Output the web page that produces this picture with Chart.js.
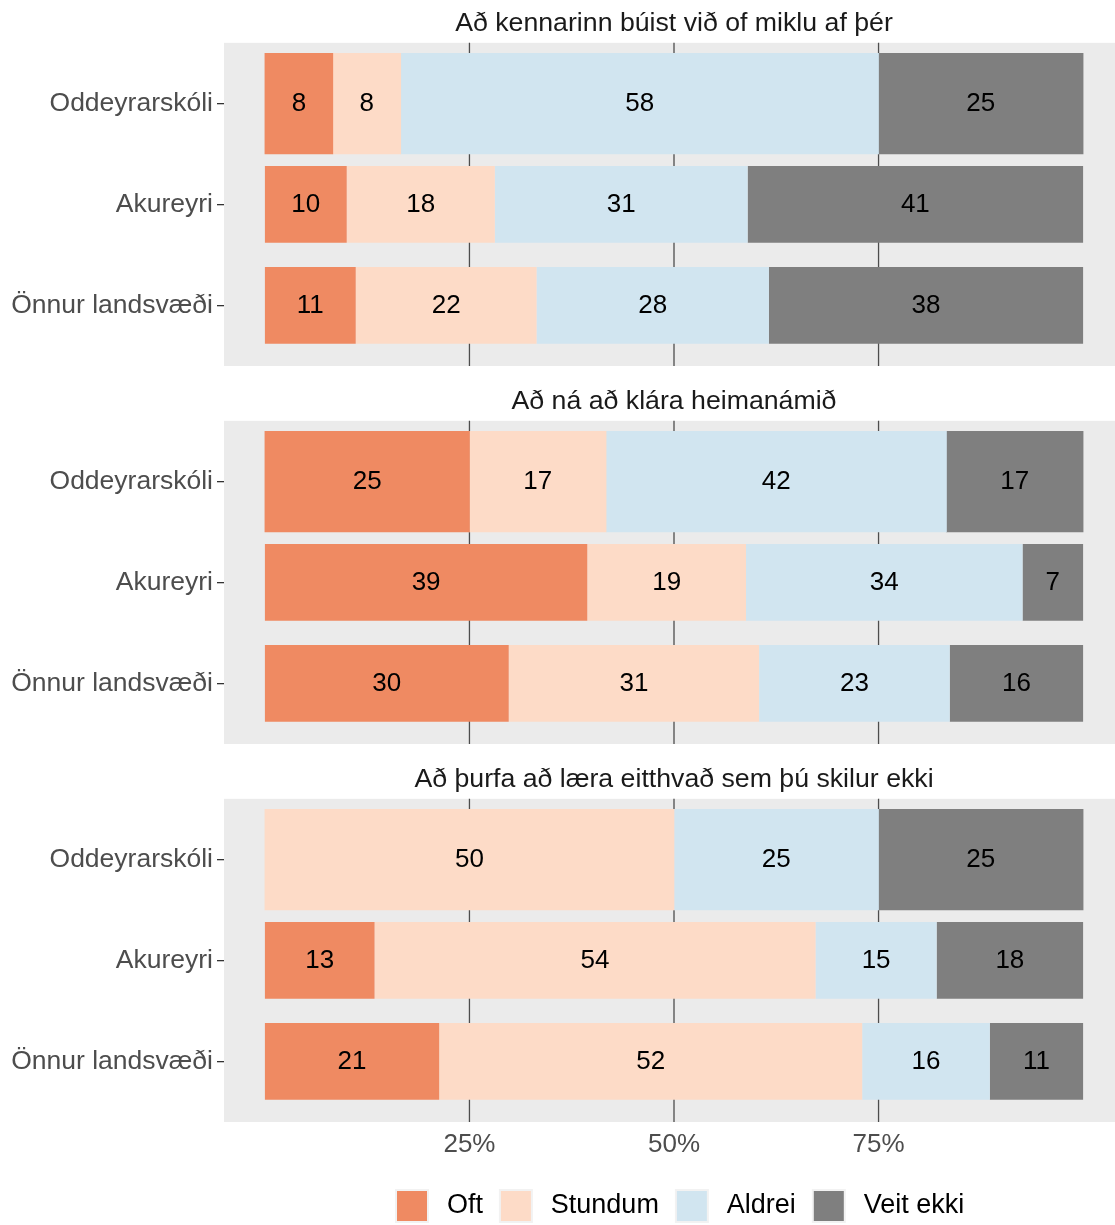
<!DOCTYPE html>
<html>
<head>
<meta charset="utf-8">
<script src="https://cdn.jsdelivr.net/npm/chart.js@4"></script>
<style>
  html, body { margin: 0; padding: 0; background: #fff; overflow: hidden; }
  #wrap { position: relative; width: 1115px; height: 1225px; overflow: hidden; }
  canvas { position: absolute; left: 0; }
</style>
</head>
<body>
<div id="wrap">
  <canvas id="c1" width="1124" height="378" style="top:-12px"></canvas>
  <canvas id="c2" width="1124" height="378" style="top:366px"></canvas>
  <canvas id="c3" width="1124" height="488" style="top:744px"></canvas>
</div>
<script>
const schools = ['Oddeyrarskóli', 'Akureyri', 'Önnur landsvæði'];
const answers = ['Oft', 'Stundum', 'Aldrei', 'Veit ekki'];
const answerColors = ['#EF8A62', '#FDDBC7', '#D1E5F0', '#7F7F7F'];
const xTicks = [25, 50, 75];

// percent per school, columns: Oft, Stundum, Aldrei, Veit ekki
const kennarinn = [
  [8.3, 8.3, 58.4, 25.0],
  [10.0, 18.1, 30.9, 41.0],
  [11.1, 22.1, 28.4, 38.4]
];
const heimanam = [
  [25.0, 16.7, 41.6, 16.7],
  [39.4, 19.4, 33.8, 7.4],
  [29.8, 30.6, 23.3, 16.3]
];
const skilur = [
  [0, 50.0, 25.0, 25.0],
  [13.4, 53.9, 14.8, 17.9],
  [21.3, 51.7, 15.6, 11.4]
];

const FONT = '"Liberation Sans", Arial, sans-serif';
Chart.defaults.font.family = FONT;

// grey panel + dark vertical grid lines, a bit taller than the bar area
const panelBg = {
  id: 'panelBg',
  beforeDraw(chart) {
    const {ctx, chartArea: a, scales: {x, y}} = chart;
    const pad = Math.abs(y.getPixelForValue(1) - y.getPixelForValue(0)) * 0.1;
    ctx.save();
    ctx.fillStyle = '#EBEBEB';
    ctx.fillRect(a.left, a.top - pad, a.right - a.left, a.bottom - a.top + 2 * pad);
    ctx.strokeStyle = '#4D4D4D';
    ctx.lineWidth = 1.3;
    xTicks.forEach(v => {
      const px = x.getPixelForValue(v);
      ctx.beginPath();
      ctx.moveTo(px, a.top - pad);
      ctx.lineTo(px, a.bottom + pad);
      ctx.stroke();
    });
    ctx.restore();
  }
};

const barLabels = {
  id: 'barLabels',
  afterDatasetsDraw(chart) {
    const ctx = chart.ctx;
    ctx.save();
    ctx.font = '26px ' + FONT;
    ctx.fillStyle = '#000';
    ctx.textAlign = 'center';
    ctx.textBaseline = 'middle';
    chart.data.datasets.forEach((ds, di) => {
      chart.getDatasetMeta(di).data.forEach((bar, i) => {
        const v = ds.data[i];
        if (v === null || v === 0) return;
        ctx.fillText(String(Math.round(v)), (bar.x + bar.base) / 2, bar.y);
      });
    });
    ctx.restore();
  }
};

// title centred over the panel, legend moved under the panel like the original
const centerOnPanel = {
  id: 'centerOnPanel',
  afterLayout(chart) {
    const a = chart.chartArea;
    if (chart.titleBlock) {
      chart.titleBlock.left = a.left;
      chart.titleBlock.right = a.right;
    }
    if (chart.legend && chart.options.plugins.legend.display) {
      chart.legend.left = 396 - chart.options.plugins.legend.labels.padding;
    }
  }
};

function makeChart(id, title, rows, bottom) {
  const datasets = [];
  answers.forEach((a, j) => datasets.push({
    label: a,
    backgroundColor: answerColors[j],
    data: rows.map((r, i) => i === 0 && r[j] ? r[j] : null),
    barPercentage: 1.0,
    categoryPercentage: 1
  }));
  answers.forEach((a, j) => datasets.push({
    label: a,
    backgroundColor: answerColors[j],
    data: rows.map((r, i) => i !== 0 && r[j] ? r[j] : null),
    barPercentage: 0.76,
    categoryPercentage: 1
  }));

  return new Chart(document.getElementById(id), {
    type: 'bar',
    data: {labels: schools, datasets},
    plugins: [panelBg, barLabels, centerOnPanel],
    options: {
      indexAxis: 'y',
      responsive: false,
      animation: false,
      layout: {padding: {top: 0, left: 0, right: 0, bottom: bottom ? 0 : 10.125}},
      scales: {
        x: {
          stacked: true,
          min: -5,
          max: 105,
          display: bottom,
          grid: {display: false, drawTicks: false},
          border: {display: false},
          afterBuildTicks: s => { s.ticks = xTicks.map(v => ({value: v})); },
          afterFit: bottom ? (s => { s.height = 61.125; }) : undefined,
          ticks: {
            callback: v => v + '%',
            font: {size: 26},
            color: '#4D4D4D',
            padding: 17
          }
        },
        y: {
          stacked: true,
          offset: true,
          grid: {display: true, drawOnChartArea: false, drawTicks: true, tickLength: 7, color: '#333333', lineWidth: 1.3, offset: false},
          border: {display: false},
          afterFit: s => { s.width = 224; s.paddingTop = 0; s.paddingBottom = 0; },
          ticks: {font: {size: 26.5}, color: '#4D4D4D', padding: 4}
        }
      },
      plugins: {
        title: {
          display: true,
          text: title,
          color: '#1A1A1A',
          font: {size: 26.7, weight: 'normal'},
          padding: {top: 19.2, bottom: 13.7}
        },
        legend: {
          display: bottom,
          position: 'bottom',
          align: 'start',
          labels: {
            font: {size: 27},
            color: '#000',
            boxWidth: 32,
            boxHeight: 32,
            padding: 17,
            generateLabels: () => answers.map((a, j) => ({
              text: '\u2009' + a,
              fillStyle: answerColors[j],
              strokeStyle: '#F2F2F2',
              lineWidth: 2,
              fontColor: '#000',
              hidden: false,
              datasetIndex: j
            }))
          }
        },
        tooltip: {enabled: false}
      }
    }
  });
}

makeChart('c1', 'Að kennarinn búist við of miklu af þér', kennarinn, false);
makeChart('c2', 'Að ná að klára heimanámið', heimanam, false);
makeChart('c3', 'Að þurfa að læra eitthvað sem þú skilur ekki', skilur, true);
</script>
</body>
</html>
